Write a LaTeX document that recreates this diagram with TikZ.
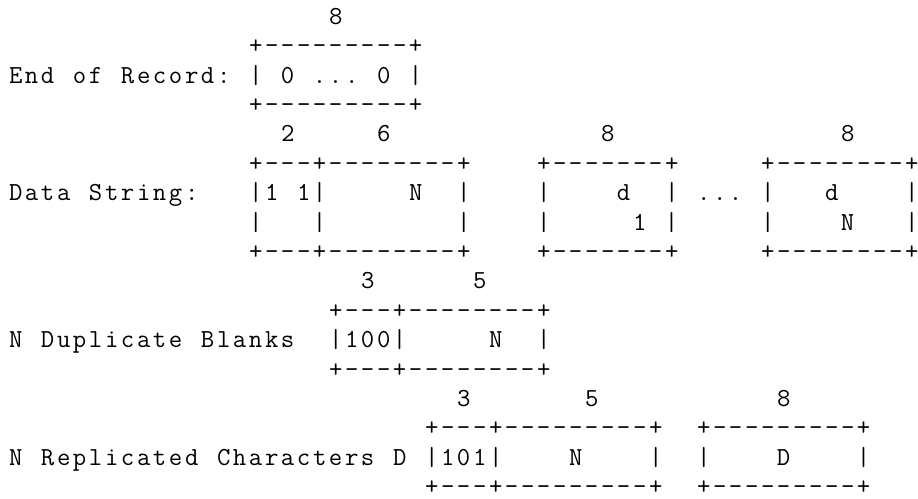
\documentclass[tikz,border=0pt]{standalone}
\usepackage{tikz}

\newcommand{\asciifont}{\fontsize{26pt}{29.4pt}\selectfont\ttfamily}
% one character per 16pt cell, ~ stands for a blank
\makeatletter
\newcommand{\asc}[1]{\@tfor\asc@ch:=#1\do{\makebox[16pt]{\asc@ch}}}
\makeatother

\begin{document}
\begin{tikzpicture}[x=16pt,y=-29.4pt]
\tikzstyle{every node}+=[inner sep=0pt, anchor=base west, font=\asciifont]
\useasboundingbox (-0.469,-0.823) rectangle (56.906,16.116);
% end of record
\node (eorw) at (20,0) {\asc{8}};
\node (eortop) at (15,1) {\asc{+---------+}};
\node (eorlbl) at (0,2) {\asc{End~of~Record:}};
\node (eorbox) at (15,2) {\asc{|~0~...~0~|}};
\node (eorbot) at (15,3) {\asc{+---------+}};
% data string
\node (dsw1) at (17,4) {\asc{2}};
\node (dsw2) at (23,4) {\asc{6}};
\node (dsw3) at (37,4) {\asc{8}};
\node (dsw4) at (52,4) {\asc{8}};
\node (dstop1) at (15,5) {\asc{+---+--------+}};
\node (dstop2) at (33,5) {\asc{+-------+}};
\node (dstop3) at (47,5) {\asc{+--------+}};
\node (dslbl) at (0,6) {\asc{Data~String:}};
\node (dshead) at (15,6) {\asc{|1~1|~~~~~N~~|}};
\node (dsfirst) at (33,6) {\asc{|~~~~d~~|}};
\node (dsdots) at (43,6) {\asc{...}};
\node (dslast) at (47,6) {\asc{|~~~d~~~~|}};
\node (dshead2) at (15,7) {\asc{|~~~|~~~~~~~~|}};
\node (dsfirst2) at (33,7) {\asc{|~~~~~1~|}};
\node (dslast2) at (47,7) {\asc{|~~~~N~~~|}};
\node (dsbot1) at (15,8) {\asc{+---+--------+}};
\node (dsbot2) at (33,8) {\asc{+-------+}};
\node (dsbot3) at (47,8) {\asc{+--------+}};
% duplicate blanks
\node (dbw1) at (22,9) {\asc{3}};
\node (dbw2) at (29,9) {\asc{5}};
\node (dbtop) at (20,10) {\asc{+---+--------+}};
\node (dblbl) at (0,11) {\asc{N~Duplicate~Blanks}};
\node (dbbox) at (20,11) {\asc{|100|~~~~~N~~|}};
\node (dbbot) at (20,12) {\asc{+---+--------+}};
% replicated characters
\node (rcw1) at (28,13) {\asc{3}};
\node (rcw2) at (36,13) {\asc{5}};
\node (rcw3) at (48,13) {\asc{8}};
\node (rctop1) at (26,14) {\asc{+---+---------+}};
\node (rctop2) at (43,14) {\asc{+---------+}};
\node (rclbl) at (0,15) {\asc{N~Replicated~Characters~D}};
\node (rcbox) at (26,15) {\asc{|101|~~~~N~~~~|}};
\node (rcchar) at (43,15) {\asc{|~~~~D~~~~|}};
\node (rcbot1) at (26,16) {\asc{+---+---------+}};
\node (rcbot2) at (43,16) {\asc{+---------+}};
\end{tikzpicture}
\end{document}
